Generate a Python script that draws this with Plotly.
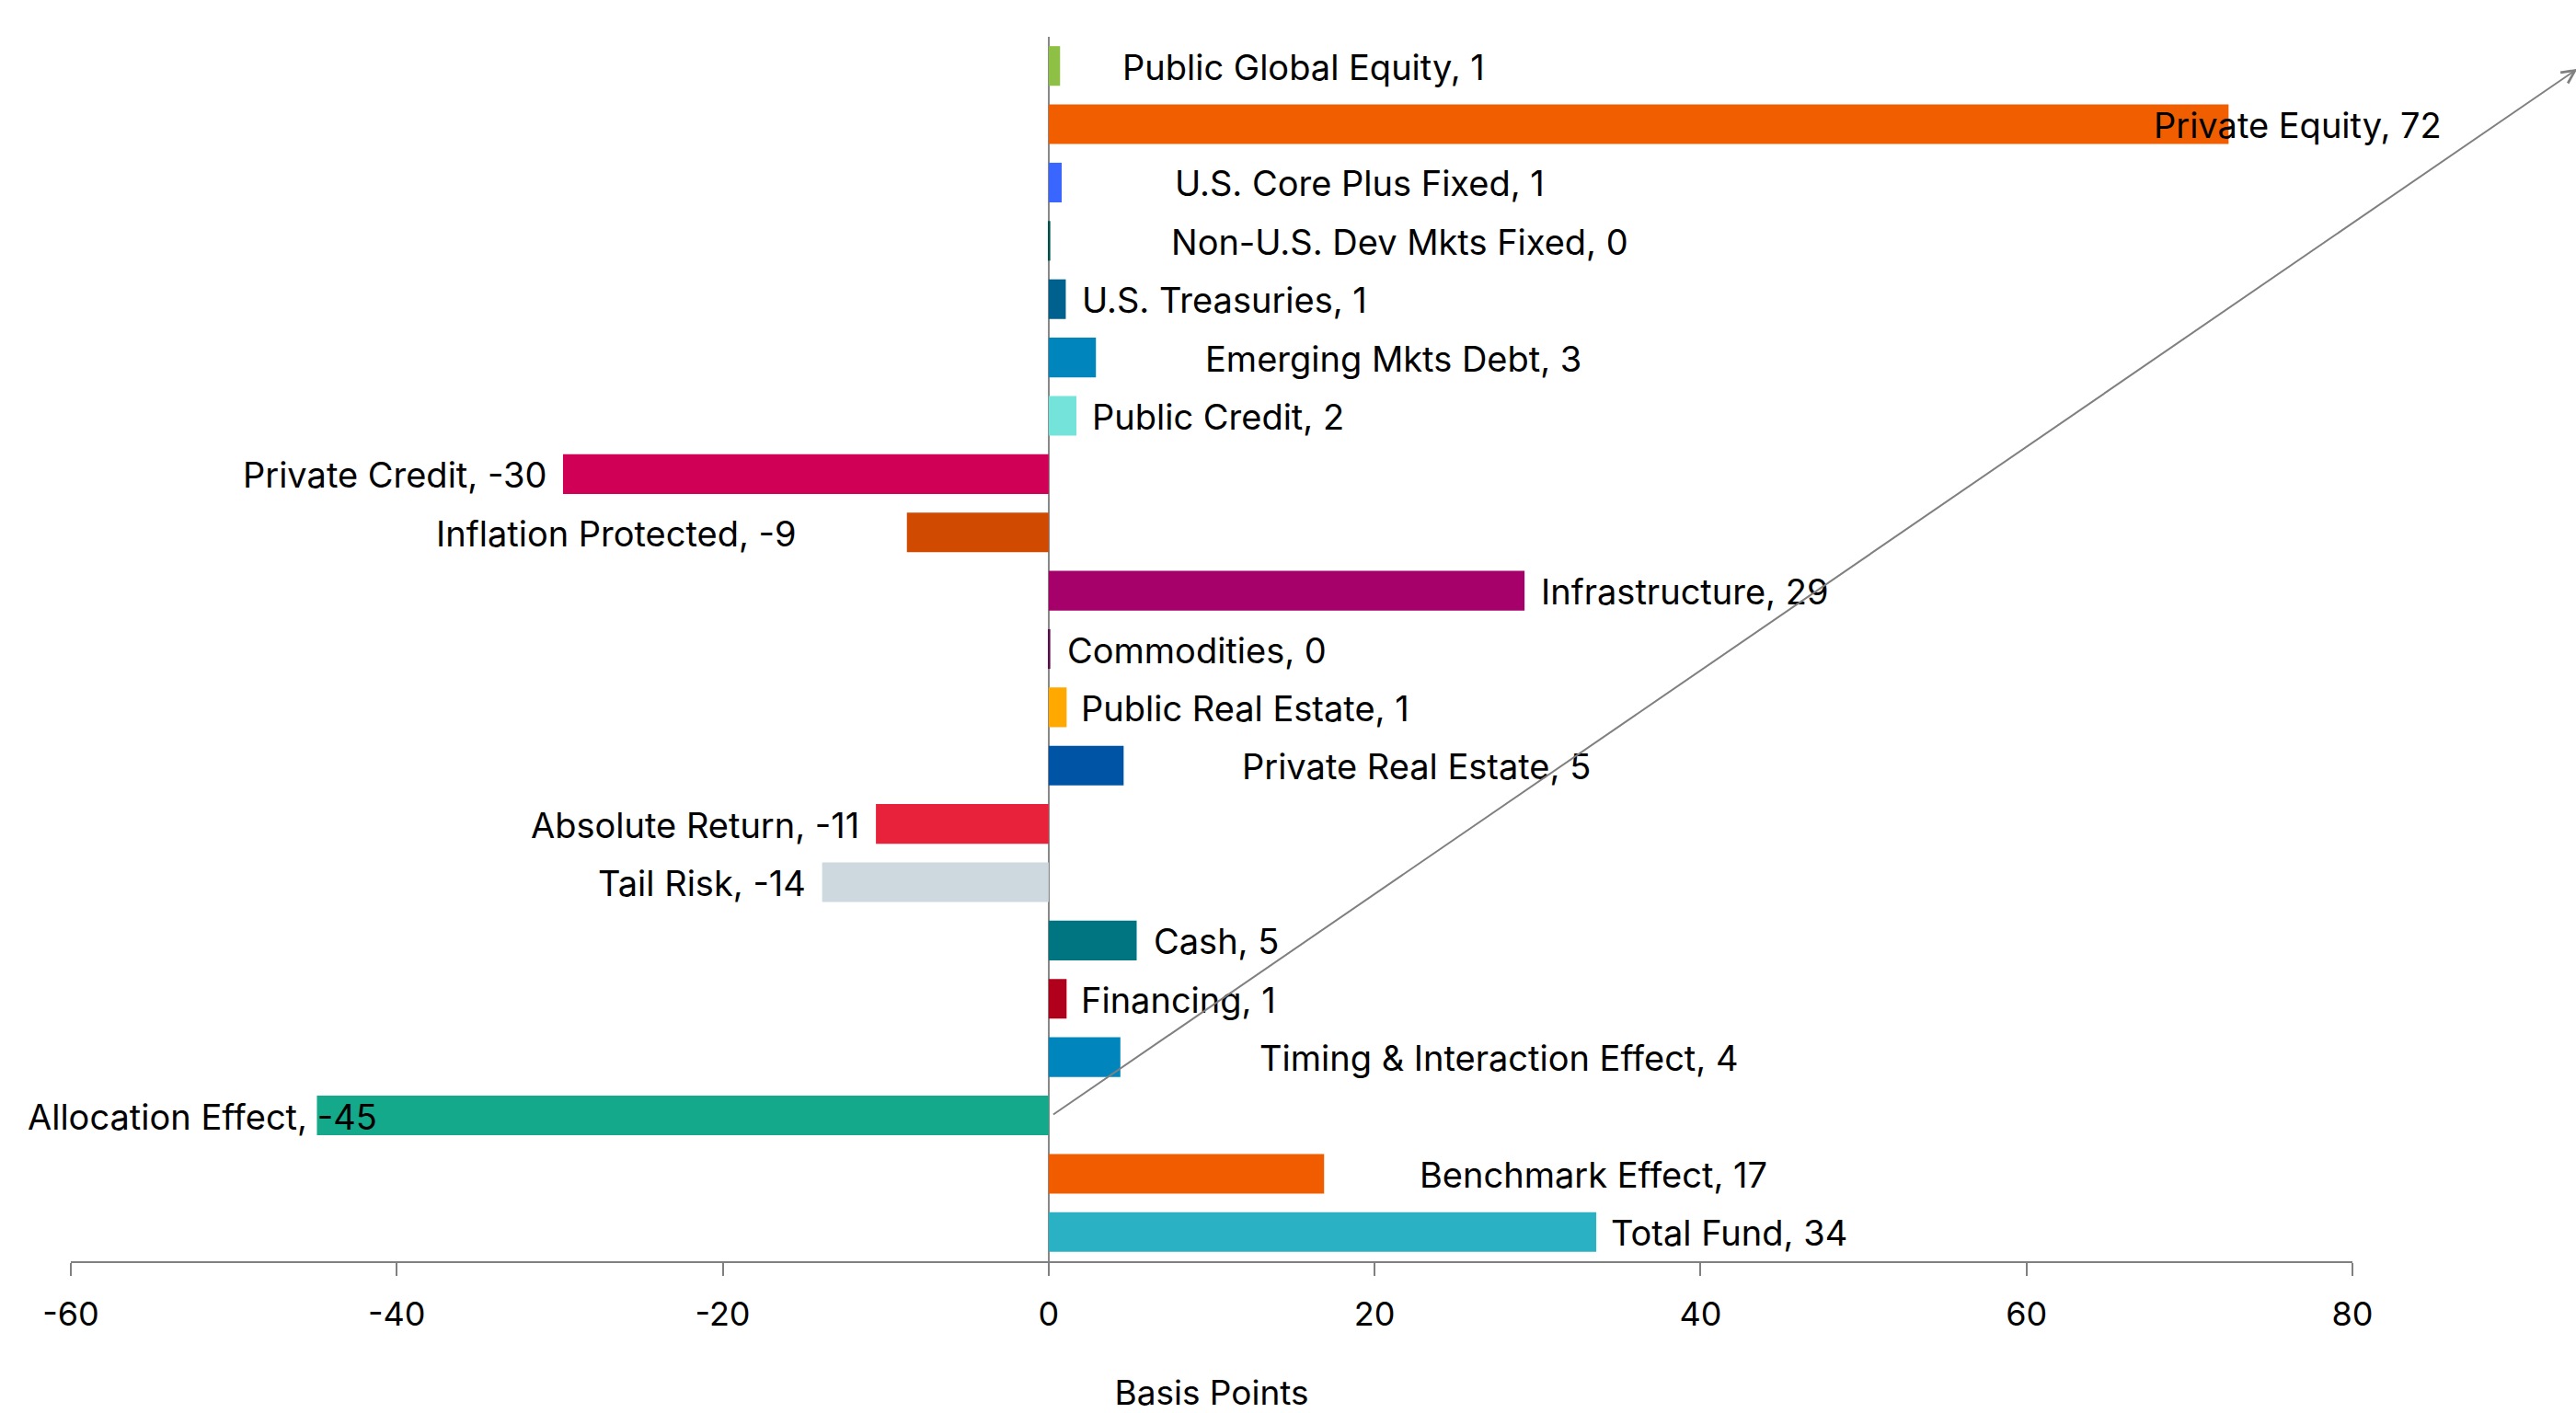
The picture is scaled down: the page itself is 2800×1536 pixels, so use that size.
import plotly.graph_objects as go

# Attribution by asset class, in basis points
categories = [
    "Public Global Equity", "Private Equity", "U.S. Core Plus Fixed",
    "Non-U.S. Dev Mkts Fixed", "U.S. Treasuries", "Emerging Mkts Debt",
    "Public Credit", "Private Credit", "Inflation Protected", "Infrastructure",
    "Commodities", "Public Real Estate", "Private Real Estate", "Absolute Return",
    "Tail Risk", "Cash", "Financing", "Timing & Interaction Effect",
    "Allocation Effect", "Benchmark Effect", "Total Fund",
]
values = [
    0.7, 72.4, 0.8, 0.1, 1.05, 2.9, 1.7, -29.8, -8.7, 29.2,
    0.1, 1.1, 4.6, -10.6, -13.9, 5.4, 1.1, 4.4, -44.9, 16.9, 33.6,
]
bar_colors = [
    "#8DC044", "#F05E00", "#3866FF", "#00504A", "#00618F", "#0085BD",
    "#74E3D9", "#D10057", "#D04A02", "#A6006A", "#5A0D4A", "#FFA800",
    "#0054A6", "#E8223A", "#CDD9DE", "#007582", "#B0001B", "#0085BD",
    "#14A98A", "#F25C00", "#2AB1C3",
]
x_ticks = [-60, -40, -20, 0, 20, 40, 60, 80]

# horizontal pixel offset of each label from its bar end
label_shift = [
    66, -83, 121, 129, 16, 117, 15, -16, -118, 16,
    16, 14, 127, -16, -16, 16, 14, 149, 68, 102, 14,
]

FONT = "Inter"
LABEL_SIZE = 38
TICK_SIZE = 36

fig = go.Figure(
    go.Bar(
        x=values,
        y=categories,
        orientation="h",
        marker=dict(color=bar_colors, line=dict(width=0)),
        width=0.68,
        hoverinfo="skip",
    )
)

for name, v, dx in zip(categories, values, label_shift):
    positive = v >= 0
    if name == "Allocation Effect":
        positive = False
    fig.add_annotation(
        x=v, y=categories.index(name), xref="x", yref="y",
        text=f"{name}, {round(v)}",
        showarrow=False,
        xanchor="left" if positive else "right",
        yanchor="middle",
        xshift=dx, yshift=-1,
        font=dict(family=FONT, size=LABEL_SIZE, color="#000000"),
    )

# diagonal arrow rising from the allocation row to the top right corner
fig.add_annotation(
    x=93.8, y=categories.index("Public Global Equity") + 0.05,
    xref="x", yref="y",
    ax=0.2, ay=categories.index("Allocation Effect"),
    axref="x", ayref="y",
    text="", showarrow=True,
    arrowhead=5, arrowsize=1.4, arrowwidth=2, arrowcolor="#808080",
)

fig.update_layout(
    width=2800, height=1536,
    margin=dict(l=77, r=243, t=40, b=165, autoexpand=False),
    paper_bgcolor="white", plot_bgcolor="white",
    showlegend=False,
    bargap=0.32,
    font=dict(family=FONT, size=TICK_SIZE, color="#000000"),
    xaxis=dict(
        range=[-60, 80],
        automargin=False,
        tickvals=x_ticks,
        ticktext=[str(t) for t in x_ticks],
        ticks="outside", ticklen=14, tickwidth=1.5, tickcolor="#808080",
        showline=True, linecolor="#808080", linewidth=2,
        showgrid=False,
        zeroline=True, zerolinecolor="#888888", zerolinewidth=2,
        layer="above traces",
        tickfont=dict(family=FONT, size=TICK_SIZE, color="#000000"),
        ticklabelstandoff=11,
        title=dict(text="Basis Points", standoff=56,
                   font=dict(family=FONT, size=37, color="#000000")),
    ),
    yaxis=dict(
        type="category",
        categoryorder="array", categoryarray=categories,
        autorange="reversed",
        automargin=False,
        showticklabels=False, ticks="", showgrid=False,
        showline=False, zeroline=False,
    ),
)

fig.write_html("out.html")
